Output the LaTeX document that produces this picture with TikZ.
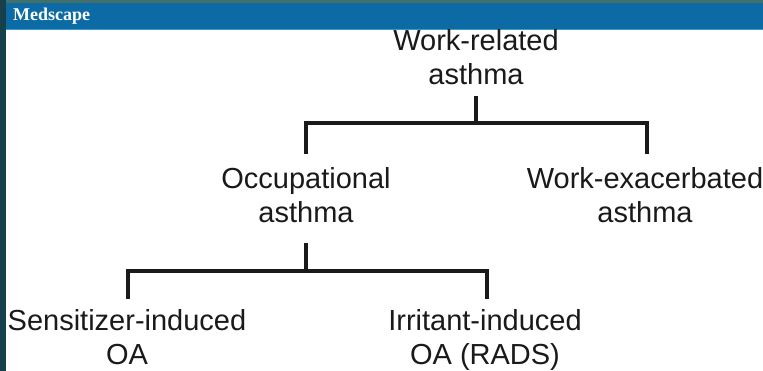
\documentclass[tikz,border=0pt]{standalone}
\usepackage{fontspec}
\newfontfamily\labfont{Liberation Sans}
\newfontfamily\logofont{Liberation Serif}
\definecolor{frame}{HTML}{16404C}
\definecolor{topstrip}{HTML}{41706A}
\definecolor{band}{HTML}{0C6BA4}
\definecolor{bandline}{HTML}{3A9ACB}
\definecolor{ink}{HTML}{1A1A1A}
\tikzset{
  lab/.style={font=\labfont\fontsize{29}{34}\selectfont, text=ink, align=center, inner sep=0pt, anchor=base},
  link/.style={draw=ink, line width=3.3pt, line join=miter, line cap=rect}
}
\begin{document}
\begin{tikzpicture}[x=1pt,y=-1pt]
\useasboundingbox (0,0) rectangle (763,371);
% background and frame
\fill[white] (0,0) rectangle (763,371);
\fill[frame] (0,0) rectangle (6,371);
\fill[topstrip] (6,0) rectangle (763,3);
\fill[band] (6,3) rectangle (763,29);
\fill[bandline] (6,29) rectangle (763,30);
\node[font=\logofont\bfseries\fontsize{18}{18}\selectfont, text=white, anchor=base west, inner sep=0pt] (logo) at (13,20.5) {Medscape};
% nodes (anchor = baseline of the last line)
\node[lab] (wra) at (476,85) {Work-related\\asthma};
\node[lab] (oa) at (306,223) {Occupational\\asthma};
\node[lab] (wea) at (645,223) {Work-exacerbated\\asthma};
\node[lab] (sia) at (127,364.5) {Sensitizer-induced\\OA};
\node[lab] (iia) at (485,364.5) {Irritant-induced\\OA (RADS)};
% junctions
\coordinate (bar1) at (476,123);
\coordinate (bar2) at (306,271);
\coordinate (d1l) at (306,152);
\coordinate (d1r) at (647,152);
\coordinate (d2l) at (128,297);
\coordinate (d2r) at (487,297);
\coordinate (top1) at (476,98);
\coordinate (top2) at (306,245);
% connectors
\draw[link] (top1) -- (bar1);
\draw[link] (d1l) |- (bar1) -| (d1r);
\draw[link] (top2) -- (bar2);
\draw[link] (d2l) |- (bar2) -| (d2r);
\end{tikzpicture}
\end{document}
